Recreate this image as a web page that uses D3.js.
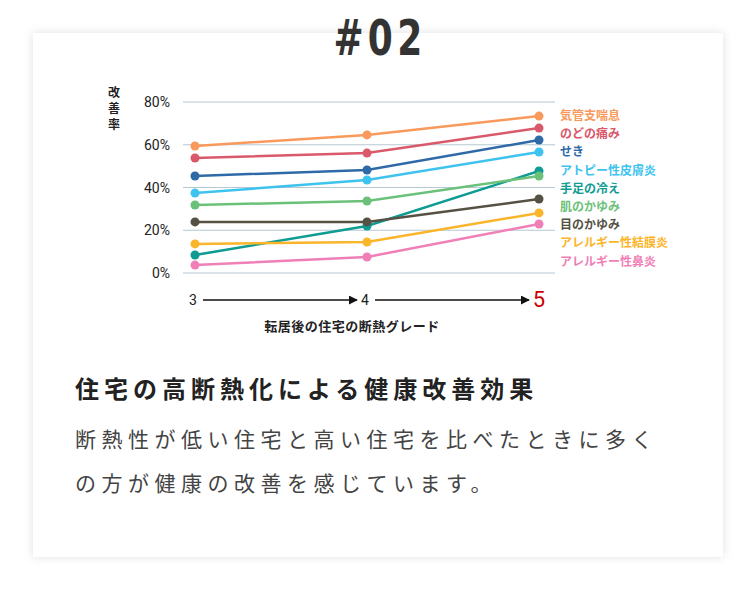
<!DOCTYPE html>
<html><head><meta charset="utf-8">
<script src="https://cdn.jsdelivr.net/npm/d3@7"></script>
<style>
body{margin:0;background:#fff;font-family:"Noto Sans CJK JP","Noto Sans",sans-serif;}
</style></head>
<body><div id="chart"></div>
<script>
const grades = ["3", "4", "5"];
const yTicks = [0, 20, 40, 60, 80];
const names = ["気管支喘息","のどの痛み","せき","アトピー性皮膚炎","手足の冷え","肌のかゆみ","目のかゆみ","アレルギー性結膜炎","アレルギー性鼻炎"];
const colors = ["#f99a5c","#d9596a","#2f6aa8","#3ec3ee","#0e9c92","#6cc17a","#555244","#fbb52a","#f07fb8"];
const values = [
  [59.4, 64.6, 73.4],
  [53.8, 56.1, 67.8],
  [45.4, 48.2, 62.2],
  [37.4, 43.5, 56.6],
  [8.4, 22.0, 47.7],
  [31.8, 33.7, 45.4],
  [23.9, 23.9, 34.6],
  [13.6, 14.5, 28.1],
  [3.7, 7.5, 22.9]
];

const svg = d3.select("#chart").append("svg").attr("width", 756).attr("height", 591);
const defs = svg.append("defs");
const f = defs.append("filter").attr("id","sh").attr("x","-5%").attr("y","-5%").attr("width","110%").attr("height","110%");
f.append("feDropShadow").attr("dx",0).attr("dy",0).attr("stdDeviation",5).attr("flood-color","#000").attr("flood-opacity",0.12);
defs.append("marker").attr("id","arr").attr("viewBox","0 0 10 10").attr("refX",9).attr("refY",5)
  .attr("markerWidth",6).attr("markerHeight",6).attr("orient","auto")
  .append("path").attr("d","M0,0L10,5L0,10z").attr("fill","#111");

svg.append("rect").attr("x",33).attr("y",33).attr("width",690).attr("height",524).attr("fill","#fff").attr("filter","url(#sh)");
svg.append("text").attr("transform","translate(380,55) scale(0.72,1)").attr("text-anchor","middle")
  .attr("font-family","DejaVu Sans").attr("font-weight","bold").attr("font-size",50)
  .attr("fill","#333").attr("letter-spacing",6).text("#02");

const x = d3.scalePoint().domain(grades).range([195, 539]);
const y = d3.scaleLinear().domain([0, 80]).range([273, 102]);

const g = svg.append("g");
g.selectAll(".grid").data(yTicks).join("line")
  .attr("x1",183).attr("x2",555).attr("y1",d=>y(d)).attr("y2",d=>y(d))
  .attr("stroke","#b5c8d4").attr("stroke-width",1.2);
g.selectAll(".yl").data(yTicks).join("text")
  .attr("x",170).attr("y",d=>y(d)+5).attr("text-anchor","end")
  .attr("font-size",14).attr("fill","#222").attr("font-family","Roboto").text(d=>d+"%");
["改","善","率"].forEach((c,i)=>svg.append("text").attr("x",114).attr("y",97+i*16).attr("text-anchor","middle")
  .attr("font-size",12).attr("font-weight","bold").attr("fill","#222").text(c));

const line = d3.line().x((d,i)=>x(grades[i])).y(d=>y(d));
values.forEach((vals,k)=>{
  g.append("path").attr("d",line(vals)).attr("fill","none").attr("stroke",colors[k]).attr("stroke-width",2.5);
  g.selectAll(null).data(vals).join("circle").attr("cx",(d,i)=>x(grades[i])).attr("cy",d=>y(d)).attr("r",4.5).attr("fill",colors[k]);
  g.append("text").attr("x",560).attr("y",120+k*18.2).attr("font-size",12).attr("font-weight","bold")
    .attr("fill",colors[k]).text(names[k]);
});

// x axis with arrows
const ax = svg.append("g");
grades.forEach((t,i)=>{
  ax.append("text").attr("x",x(t)-(i===2?0:2)).attr("y",i===2?307:305).attr("text-anchor","middle")
    .attr("font-family","Roboto").attr("font-size",i===2?22:14).attr("fill",i===2?"#c00":"#222").text(t);
  if(i<2) ax.append("line").attr("x1",x(t)+8).attr("x2",x(grades[i+1])-10).attr("y1",300).attr("y2",300)
    .attr("stroke","#111").attr("stroke-width",1.5).attr("marker-end","url(#arr)");
});
svg.append("text").attr("x",352).attr("y",331).attr("text-anchor","middle").attr("font-size",13)
  .attr("font-weight","bold").attr("fill","#222").attr("letter-spacing",0.5).text("転居後の住宅の断熱グレード");

svg.append("text").attr("x",75).attr("y",398).attr("font-size",24).attr("font-weight","bold")
  .attr("fill","#222").attr("letter-spacing",5).text("住宅の高断熱化による健康改善効果");
svg.append("text").attr("x",75).attr("y",447).attr("font-size",21).attr("fill","#444").attr("letter-spacing",5.5)
  .text("断熱性が低い住宅と高い住宅を比べたときに多く");
svg.append("text").attr("x",75).attr("y",491).attr("font-size",21).attr("fill","#444").attr("letter-spacing",5.5)
  .text("の方が健康の改善を感じています。");
</script></body></html>
